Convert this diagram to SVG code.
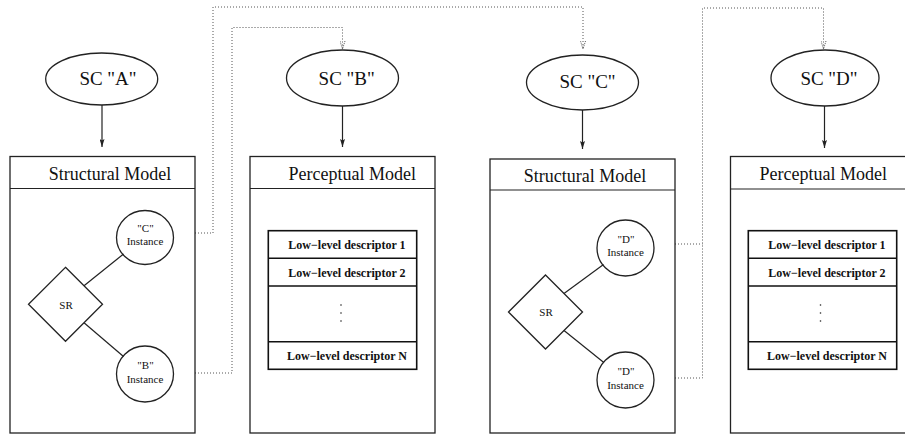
<svg xmlns="http://www.w3.org/2000/svg" width="905" height="435" viewBox="0 0 905 435">
<style>
.box{fill:#fff;stroke:#222;stroke-width:1.3}
.ln{fill:none;stroke:#222;stroke-width:1.2}
.tbl{fill:#fff;stroke:#111;stroke-width:1.6}
.dot{fill:none;stroke:#555;stroke-width:1;stroke-dasharray:1 2}
.vd{fill:#222}
.t{font-family:"Liberation Serif","Times New Roman","DejaVu Serif",serif;fill:#111;text-anchor:middle}
.h{font-size:18px}
.sc{font-size:19px}
.s{font-size:11px}
.d{font-size:12px;font-weight:bold}
</style>
<defs>
<marker id="ah" viewBox="0 0 8 5" refX="8" refY="2.5" markerWidth="8" markerHeight="5" markerUnits="userSpaceOnUse" orient="auto">
<path d="M0,0 L8,2.5 L0,5 L1.5,2.5 z" fill="#222"/>
</marker>
<marker id="ahd" viewBox="0 0 8 6" refX="8" refY="3" markerWidth="8" markerHeight="6" markerUnits="userSpaceOnUse" orient="auto">
<path d="M0,0.5 L8,3 L0,5.5" fill="none" stroke="#555" stroke-width="1" stroke-dasharray="1 1"/>
</marker>
</defs>

<g id="connectors">
<line class="ln" x1="102" y1="105" x2="102" y2="147" marker-end="url(#ah)"/>
<line class="ln" x1="342.5" y1="106" x2="342.5" y2="147" marker-end="url(#ah)"/>
<line class="ln" x1="582.5" y1="110" x2="582.5" y2="149" marker-end="url(#ah)"/>
<line class="ln" x1="824.5" y1="106" x2="824.5" y2="148" marker-end="url(#ah)"/>
<polyline class="dot" points="174,233 213,233 213,7 583,7 583,49" marker-end="url(#ahd)"/>
<polyline class="dot" points="174,373 232,373 232,27.5 342.5,27.5 342.5,49" marker-end="url(#ahd)"/>
<polyline class="dot" points="654,244 702.5,244"/>
<polyline class="dot" points="654,378 702.5,378 702.5,8 823.5,8 823.5,49" marker-end="url(#ahd)"/>
</g>

<g id="scA">
<ellipse class="box" cx="101.7" cy="79" rx="56" ry="26"/>
<text class="t sc" x="108" y="85">SC "A"</text>
</g>
<g id="scB">
<ellipse class="box" cx="342.5" cy="78" rx="56" ry="28"/>
<text class="t sc" x="346.7" y="85">SC "B"</text>
</g>
<g id="scC">
<ellipse class="box" cx="582.5" cy="82.5" rx="56" ry="27.5"/>
<text class="t sc" x="587.5" y="88">SC "C"</text>
</g>
<g id="scD">
<ellipse class="box" cx="825" cy="78" rx="54" ry="28"/>
<text class="t sc" x="829" y="85">SC "D"</text>
</g>

<g id="structural1">
<rect class="box" x="10" y="156.5" width="185" height="276.5"/>
<line class="ln" x1="10" y1="188.5" x2="195" y2="188.5"/>
<text class="t h" x="110" y="180">Structural Model</text>
</g>
<g id="sr1">
<polygon class="box" points="65.5,267.3 102.5,304.3 65.5,341.3 28.5,304.3"/>
<text class="t s" x="66" y="308.5">SR</text>
</g>
<g id="instC">
<ellipse class="box" cx="145" cy="237.5" rx="28.5" ry="27"/>
<text class="t s" x="145.5" y="232">"C"</text>
<text class="t s" x="145" y="245">Instance</text>
</g>
<g id="instB">
<ellipse class="box" cx="145" cy="374" rx="28.5" ry="28"/>
<text class="t s" x="145.5" y="369">"B"</text>
<text class="t s" x="145" y="382.5">Instance</text>
</g>
<g id="srlinks1">
<line class="ln" x1="84" y1="285.8" x2="123.5" y2="254"/>
<line class="ln" x1="84" y1="322.8" x2="123.5" y2="356.5"/>
</g>

<g id="perceptual1">
<rect class="box" x="250" y="156.5" width="185" height="276.5"/>
<line class="ln" x1="250" y1="188.5" x2="435" y2="188.5"/>
<text class="t h" x="352.3" y="180">Perceptual Model</text>
<rect class="tbl" x="268.3" y="230.7" width="148.4" height="138.6"/>
<line class="tbl" x1="268.3" y1="258.3" x2="416.7" y2="258.3"/>
<line class="tbl" x1="268.3" y1="286" x2="416.7" y2="286"/>
<line class="tbl" x1="268.3" y1="341.7" x2="416.7" y2="341.7"/>
<text class="t d" x="347" y="249">Low−level descriptor 1</text>
<text class="t d" x="347" y="276.5">Low−level descriptor 2</text>
<circle class="vd" cx="341" cy="305" r="0.8"/>
<circle class="vd" cx="341" cy="313" r="0.8"/>
<circle class="vd" cx="341" cy="321" r="0.8"/>
<text class="t d" x="347" y="360">Low−level descriptor N</text>
</g>

<g id="structural2">
<rect class="box" x="490" y="159" width="185" height="274"/>
<line class="ln" x1="490" y1="190" x2="675" y2="190"/>
<text class="t h" x="585" y="181.7">Structural Model</text>
</g>
<g id="sr2">
<polygon class="box" points="545.5,275 582.5,312 545.5,349 508.5,312"/>
<text class="t s" x="546" y="316">SR</text>
</g>
<g id="instD1">
<ellipse class="box" cx="625.5" cy="248" rx="28.5" ry="28"/>
<text class="t s" x="626" y="243">"D"</text>
<text class="t s" x="625.5" y="256">Instance</text>
</g>
<g id="instD2">
<ellipse class="box" cx="625.5" cy="380" rx="28.5" ry="28"/>
<text class="t s" x="626" y="375">"D"</text>
<text class="t s" x="625.5" y="388.5">Instance</text>
</g>
<g id="srlinks2">
<line class="ln" x1="564" y1="293.5" x2="603.5" y2="264.5"/>
<line class="ln" x1="564" y1="330.5" x2="603.8" y2="362.5"/>
</g>

<g id="perceptual2">
<rect class="box" x="730.5" y="156.5" width="185" height="276.5"/>
<line class="ln" x1="730.5" y1="189" x2="915" y2="189"/>
<text class="t h" x="823.3" y="180">Perceptual Model</text>
<rect class="tbl" x="748.3" y="230.7" width="148.4" height="138.6"/>
<line class="tbl" x1="748.3" y1="258.3" x2="896.7" y2="258.3"/>
<line class="tbl" x1="748.3" y1="286" x2="896.7" y2="286"/>
<line class="tbl" x1="748.3" y1="341.7" x2="896.7" y2="341.7"/>
<text class="t d" x="827" y="249">Low−level descriptor 1</text>
<text class="t d" x="827" y="276.5">Low−level descriptor 2</text>
<circle class="vd" cx="820.5" cy="305" r="0.8"/>
<circle class="vd" cx="820.5" cy="313" r="0.8"/>
<circle class="vd" cx="820.5" cy="321" r="0.8"/>
<text class="t d" x="827" y="360">Low−level descriptor N</text>
</g>
</svg>
